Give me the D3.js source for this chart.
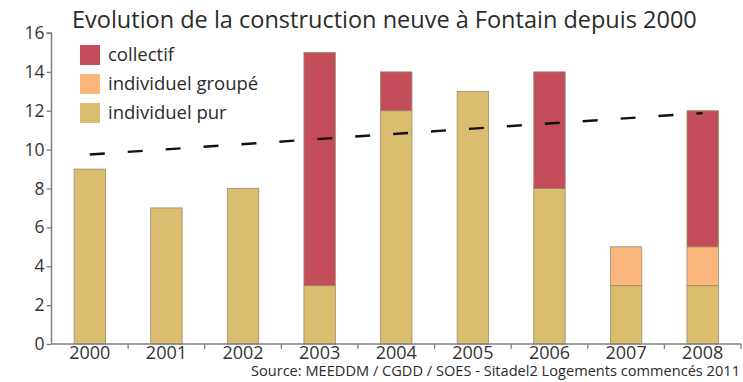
<!DOCTYPE html>
<html>
<head>
<meta charset="utf-8">
<script src="https://cdn.jsdelivr.net/npm/d3@7"></script>
<style>
  html, body { margin: 0; padding: 0; background: #fff; }
  svg { display: block; font-family: "Open Sans", "Noto Sans", sans-serif; }
</style>
</head>
<body>
<svg id="chart" width="743" height="382"></svg>
<script>
// Housing starts per year, split by type
const years = ["2000", "2001", "2002", "2003", "2004", "2005", "2006", "2007", "2008"];
const individuelPur = [9, 7, 8, 3, 12, 13, 8, 3, 3];
const individuelGroupe = [0, 0, 0, 0, 0, 0, 0, 2, 2];
const collectif = [0, 0, 0, 12, 2, 0, 6, 0, 7];
const yTicks = [0, 2, 4, 6, 8, 10, 12, 14, 16];
// Linear trend of the yearly totals, at the first and last year
const trendYears = ["2000", "2008"];
const trendValues = [9.75, 11.88];

const seriesKeys = ["individuelPur", "individuelGroupe", "collectif"];
const seriesLabels = {
  collectif: "collectif",
  individuelGroupe: "individuel groupé",
  individuelPur: "individuel pur"
};
const colors = {
  collectif: "#c34d59",
  individuelGroupe: "#fbb67b",
  individuelPur: "#dbbd6f"
};

const rows = years.map((y, i) => ({
  year: y,
  individuelPur: individuelPur[i],
  individuelGroupe: individuelGroupe[i],
  collectif: collectif[i]
}));

const svg = d3.select("#chart");

const x = d3.scaleBand().domain(years).range([51.5, 741]).padding(0);
const y = d3.scaleLinear().domain([0, 16]).range([344, 33]);
const barW = x.bandwidth() * 0.41;

// Title
svg.append("text")
  .attr("x", 72).attr("y", 28)
  .attr("font-size", 23.5)
  .attr("fill", "#2b2b2b")
  .text("Evolution de la construction neuve à Fontain depuis 2000");

// Stacked bars
const stacked = d3.stack().keys(seriesKeys)(rows);
const g = svg.append("g");
stacked.forEach(layer => {
  g.selectAll(null)
    .data(layer.filter(d => d[1] - d[0] > 0))
    .join("rect")
    .attr("x", d => x(d.data.year) + (x.bandwidth() - barW) / 2)
    .attr("width", barW)
    .attr("y", d => y(d[1]))
    .attr("height", d => y(d[0]) - y(d[1]))
    .attr("fill", colors[layer.key])
    .attr("stroke", "#9c8a6a")
    .attr("stroke-width", 0.8);
});

// Trend line
const trendLine = d3.line()
  .x(d => x(d[0]) + x.bandwidth() / 2)
  .y(d => y(d[1]));
svg.append("path")
  .datum(trendYears.map((t, i) => [t, trendValues[i]]))
  .attr("d", trendLine)
  .attr("fill", "none")
  .attr("stroke", "#111")
  .attr("stroke-width", 2.4)
  .attr("stroke-dasharray", "15,23");

// Y axis
const yAxis = d3.axisLeft(y).tickValues(yTicks).tickSize(5).tickPadding(2);
const yG = svg.append("g").attr("transform", "translate(51.5,0)").call(yAxis);
yG.select(".domain").attr("stroke", "#808080").attr("stroke-width", 1.5)
  .attr("d", `M-5,${y(16)}H0V${y(0)}`);
yG.selectAll(".tick line").attr("stroke", "#808080").attr("stroke-width", 1.3);
yG.selectAll(".tick text").attr("font-size", 17.5).attr("fill", "#333")
  .attr("font-family", "Open Sans, sans-serif");

// X axis: labels at band centres, ticks on band boundaries
const xAxis = d3.axisBottom(x).tickSize(0).tickPadding(2);
const xG = svg.append("g").attr("transform", `translate(0,${y(0)})`).call(xAxis);
xG.select(".domain").attr("stroke", "#808080").attr("stroke-width", 1.5)
  .attr("d", `M51.5,0H741`);
xG.selectAll(".tick text").attr("font-size", 18).attr("fill", "#333")
  .attr("font-family", "Open Sans, sans-serif");
xG.selectAll(null)
  .data(years)
  .join("line")
  .attr("x1", d => x(d) + x.bandwidth())
  .attr("x2", d => x(d) + x.bandwidth())
  .attr("y1", 0).attr("y2", 5)
  .attr("stroke", "#808080").attr("stroke-width", 1.3);

// Legend
const legendKeys = ["collectif", "individuelGroupe", "individuelPur"];
const lg = svg.append("g").attr("transform", "translate(80,45)");
legendKeys.forEach((k, i) => {
  lg.append("rect")
    .attr("x", 0).attr("y", i * 29)
    .attr("width", 20).attr("height", 20)
    .attr("fill", colors[k]);
  lg.append("text")
    .attr("x", 28).attr("y", i * 29 + 16)
    .attr("font-size", 18.5).attr("fill", "#2b2b2b")
    .text(seriesLabels[k]);
});

// Source note
svg.append("text")
  .attr("x", 740).attr("y", 375.5)
  .attr("text-anchor", "end")
  .attr("font-size", 14.6)
  .attr("fill", "#2b2b2b")
  .text("Source: MEEDDM / CGDD / SOES - Sitadel2 Logements commencés 2011");
</script>
</body>
</html>
